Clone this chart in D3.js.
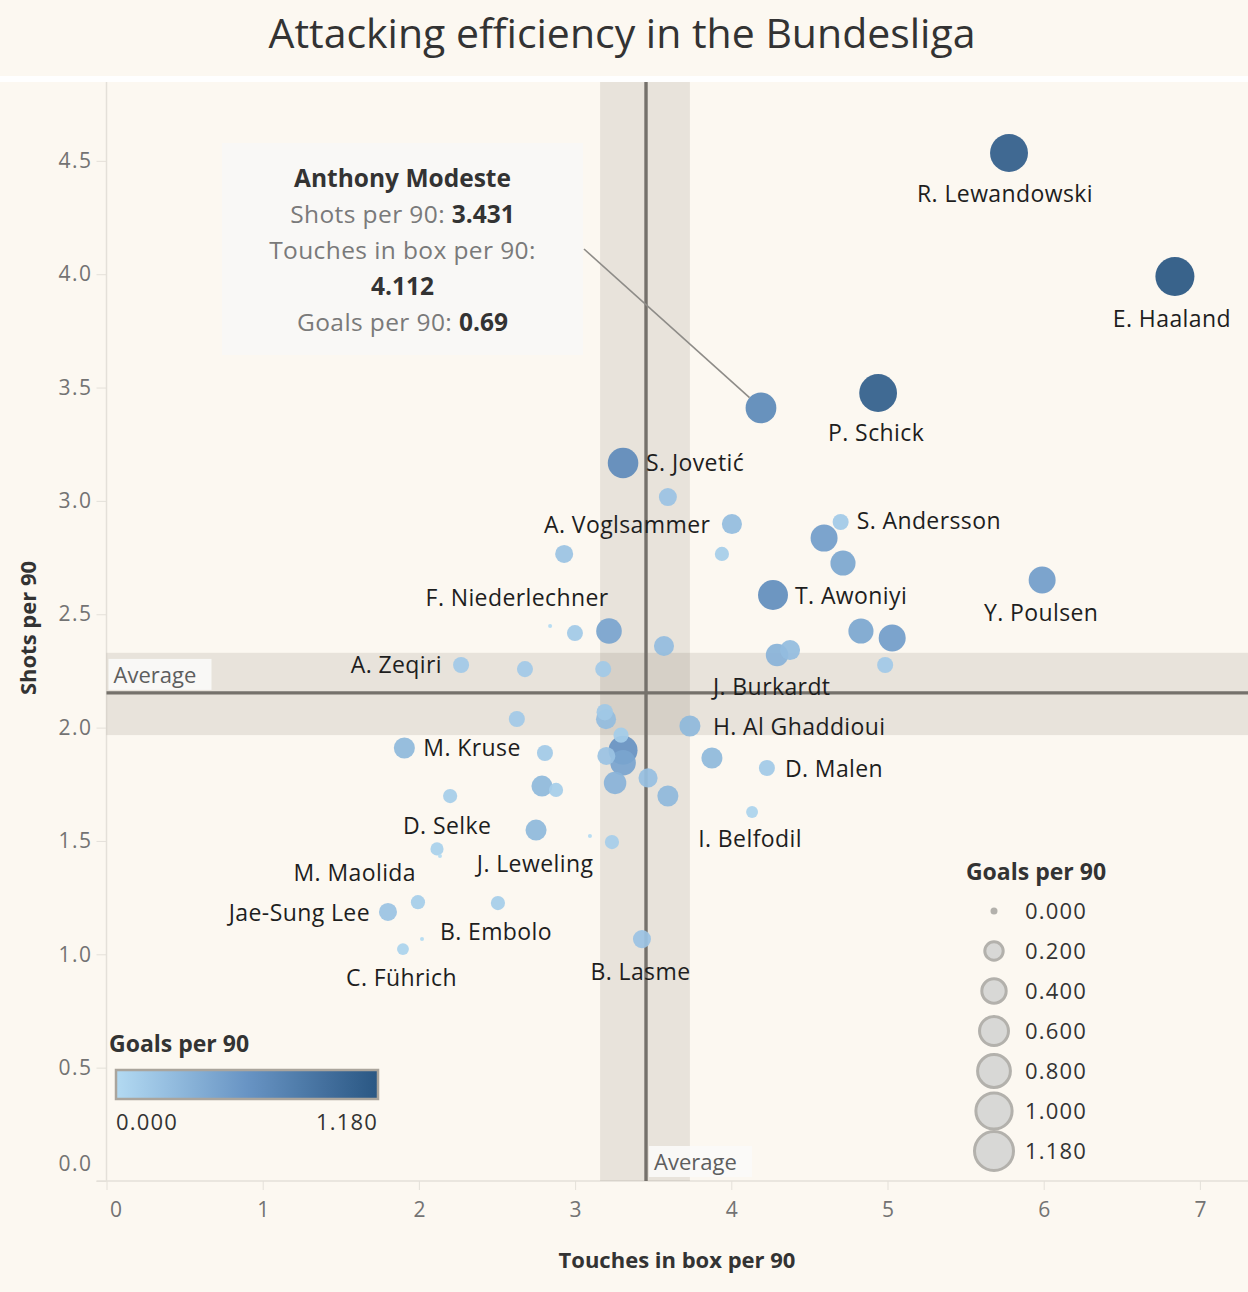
<!DOCTYPE html>
<html>
<head>
<meta charset="utf-8">
<script src="https://cdn.jsdelivr.net/npm/d3@7"></script>
<style>
  html, body { margin: 0; padding: 0; background: #fcf8f1; }
  svg text { font-family: "Open Sans", "Noto Sans", sans-serif; }
</style>
</head>
<body>
<div class="board"></div>
<script>
// data
const players = ["R. Lewandowski", "E. Haaland", "P. Schick", "Anthony Modeste", "S. Jovetić", "", "", "", "A. Voglsammer", "S. Andersson",
  "", "", "T. Awoniyi", "Y. Poulsen", "", "", "", "", "", "J. Burkardt",
  "", "", "F. Niederlechner", "", "", "A. Zeqiri", "", "", "", "H. Al Ghaddioui",
  "M. Kruse", "", "", "", "", "", "", "", "", "",
  "", "D. Selke", "J. Leweling", "", "", "M. Maolida", "", "", "D. Malen", "I. Belfodil",
  "Jae-Sung Lee", "", "B. Embolo", "C. Führich", "", "B. Lasme"];
const touchesPer90 = [5.778, 6.84, 4.94, 4.19, 3.307, 3.594, 4.004, 3.94, 2.93, 4.70,
  4.594, 4.715, 4.267, 5.99, 4.83, 5.03, 4.376, 4.293, 4.985, 3.569,
  3.217, 2.999, 2.84, 3.18, 2.679, 2.27, 2.627, 3.19, 3.198, 3.735,
  1.907, 2.807, 3.294, 3.307, 3.307, 3.2, 3.256, 3.467, 3.594, 2.788,
  2.878, 2.2, 2.75, 3.095, 3.236, 2.116, 2.135, 3.876, 4.228, 4.133,
  1.802, 1.994, 2.506, 1.898, 2.02, 3.428];
const shotsPer90 = [4.535, 3.99, 3.476, 3.41, 3.167, 3.017, 2.898, 2.766, 2.766, 2.907,
  2.836, 2.726, 2.585, 2.651, 2.426, 2.395, 2.342, 2.32, 2.276, 2.36,
  2.426, 2.417, 2.448, 2.258, 2.258, 2.276, 2.038, 2.068, 2.037, 2.007,
  1.91, 1.888, 1.967, 1.90, 1.845, 1.875, 1.756, 1.778, 1.698, 1.742,
  1.725, 1.698, 1.548, 1.522, 1.495, 1.465, 1.434, 1.866, 1.822, 1.628,
  1.187, 1.23, 1.226, 1.023, 1.067, 1.067];
const goalsPer90 = [1.11, 1.18, 1.10, 0.69, 0.68, 0.19, 0.25, 0.10, 0.19, 0.14,
  0.51, 0.43, 0.65, 0.51, 0.43, 0.51, 0.25, 0.33, 0.14, 0.25,
  0.45, 0.14, 0, 0.14, 0.14, 0.14, 0.14, 0.15, 0.25, 0.28,
  0.28, 0.14, 0.12, 0.6, 0.45, 0.19, 0.33, 0.22, 0.28, 0.28,
  0.10, 0.10, 0.28, 0, 0.10, 0.08, 0, 0.28, 0.14, 0.06,
  0.19, 0.10, 0.10, 0.06, 0, 0.19];

const xTicks = [0, 1, 2, 3, 4, 5, 6, 7];
const yTicks = [0, 0.5, 1, 1.5, 2, 2.5, 3, 3.5, 4, 4.5];
const sizeLegendValues = [0, 0.2, 0.4, 0.6, 0.8, 1.0, 1.18];
const goalsMax = 1.18;

const avgShots = 2.153, shotsBand = [1.967, 2.33];
const avgTouches = 3.454, touchesBand = [3.16, 3.735];

const tooltip = { name: "Anthony Modeste", shots: "3.431", touches: "4.112", goals: "0.69" };

// label placement: [dx, dy, anchor]
const labelPos = {
  "R. Lewandowski": [-4, 49, "middle"],
  "E. Haaland": [-3, 51, "middle"],
  "P. Schick": [-2, 48, "middle"],
  "S. Jovetić": [23, 8, "start"],
  "A. Voglsammer": [63, -21, "middle"],
  "S. Andersson": [16, 7, "start"],
  "T. Awoniyi": [22, 9, "start"],
  "Y. Poulsen": [-1, 41, "middle"],
  "F. Niederlechner": [-33, -20, "middle"],
  "A. Zeqiri": [-19, 8, "end"],
  "J. Burkardt": [49, 49, "start"],
  "H. Al Ghaddioui": [23, 9, "start"],
  "M. Kruse": [19, 8, "start"],
  "D. Malen": [18, 9, "start"],
  "D. Selke": [-3, 38, "middle"],
  "I. Belfodil": [-2, 35, "middle"],
  "J. Leweling": [-1, 42, "middle"],
  "M. Maolida": [-21, 32, "end"],
  "Jae-Sung Lee": [-18, 9, "end"],
  "B. Embolo": [-2, 37, "middle"],
  "C. Führich": [-1.5, 37, "middle"],
  "B. Lasme": [-1.5, 41, "middle"]
};

const width = 1248, height = 1292;
const plotLeft = 106.5, plotRight = 1248, plotTop = 82, plotBottom = 1181;

const svg = d3.select(".board").append("svg")
  .attr("width", width).attr("height", height);

svg.append("rect").attr("width", width).attr("height", height).attr("fill", "#fcf8f1");
svg.append("rect").attr("y", 76).attr("width", width).attr("height", 6).attr("fill", "#ffffff");

// title
svg.append("text")
  .attr("x", 622).attr("y", 48)
  .attr("text-anchor", "middle")
  .attr("font-size", 40)
  .attr("fill", "#333")
  .attr("textLength", 707).attr("lengthAdjust", "spacingAndGlyphs")
  .text("Attacking efficiency in the Bundesliga");

const x = d3.scaleLinear().domain([0, 7]).range([plotLeft, plotLeft + 7 * 156.2]);
const y = d3.scaleLinear().domain([0, 4.5]).range([plotBottom, plotBottom - 4.5 * 226.7]);
const r = d3.scaleSqrt().domain([0, goalsMax]).range([2, 19.5]);
const color = d3.scaleLinear().domain([0, goalsMax / 2, goalsMax])
  .range(["#b3daf2", "#6894c4", "#2a5783"]);

const data = players.map((name, i) => ({
  name: name, touches: touchesPer90[i], shots: shotsPer90[i], goals: goalsPer90[i]
}));

// axes
const axisColor = "#e4e0d9";
svg.append("line").attr("x1", plotLeft).attr("x2", plotLeft).attr("y1", plotTop).attr("y2", plotBottom)
  .attr("stroke", axisColor).attr("stroke-width", 1.5);
svg.append("line").attr("x1", plotLeft - 10).attr("x2", plotRight).attr("y1", plotBottom).attr("y2", plotBottom)
  .attr("stroke", axisColor).attr("stroke-width", 1.5);

const xAxis = svg.append("g").attr("transform", `translate(0,${plotBottom})`)
  .call(d3.axisBottom(x).tickValues(xTicks).tickSize(9).tickPadding(12).tickFormat(d3.format("d")));
xAxis.select(".domain").remove();
xAxis.selectAll("line").attr("stroke", axisColor);
xAxis.selectAll("text").attr("font-size", 21).attr("fill", "#737373")
  .attr("font-family", "'Open Sans', sans-serif")
  .attr("dx", d => d === 0 ? 9 : 0);

const yAxis = svg.append("g").attr("transform", `translate(${plotLeft},0)`)
  .call(d3.axisLeft(y).tickValues(yTicks).tickSize(10).tickPadding(4).tickFormat(d3.format(".1f")));
yAxis.select(".domain").remove();
yAxis.selectAll("line").attr("stroke", axisColor);
yAxis.selectAll("text").attr("font-size", 21).attr("fill", "#737373")
  .attr("letter-spacing", 1.5)
  .attr("font-family", "'Open Sans', sans-serif")
  .attr("dy", d => d === 0 ? "-0.5em" : "0.32em");

svg.append("text")
  .attr("x", 677).attr("y", 1268)
  .attr("text-anchor", "middle").attr("font-size", 22).attr("font-weight", "bold").attr("fill", "#333")
  .text("Touches in box per 90");
svg.append("text")
  .attr("transform", "translate(36,628) rotate(-90)")
  .attr("text-anchor", "middle").attr("font-size", 22).attr("font-weight", "bold").attr("fill", "#333")
  .text("Shots per 90");

// average bands
const bandFill = "rgba(60,45,30,0.1)";
svg.append("rect")
  .attr("x", plotLeft).attr("width", plotRight - plotLeft)
  .attr("y", y(shotsBand[1])).attr("height", y(shotsBand[0]) - y(shotsBand[1]))
  .attr("fill", bandFill);
svg.append("rect")
  .attr("x", x(touchesBand[0])).attr("width", x(touchesBand[1]) - x(touchesBand[0]))
  .attr("y", plotTop).attr("height", plotBottom - plotTop)
  .attr("fill", bandFill);
svg.append("line")
  .attr("x1", plotLeft).attr("x2", plotRight).attr("y1", y(avgShots)).attr("y2", y(avgShots))
  .attr("stroke", "#75716b").attr("stroke-width", 3.4);
svg.append("line")
  .attr("x1", x(avgTouches)).attr("x2", x(avgTouches)).attr("y1", plotTop).attr("y2", plotBottom)
  .attr("stroke", "#75716b").attr("stroke-width", 3.4);

// "Average" tags
function avgTag(px, py) {
  svg.append("rect").attr("x", px).attr("y", py).attr("width", 103).attr("height", 31)
    .attr("fill", "#fbfaf8").attr("opacity", 0.9);
  svg.append("text").attr("x", px + 5).attr("y", py + 24)
    .attr("font-size", 22).attr("fill", "#5e5e5e").text("Average");
}
avgTag(plotLeft + 2, y(avgShots) - 34);
avgTag(x(avgTouches) + 3, plotBottom - 35);

// dots
const sorted = data.slice().sort((a, b) => b.goals - a.goals);
svg.append("g").selectAll("circle")
  .data(sorted)
  .enter()
  .append("circle")
  .attr("cx", d => x(d.touches))
  .attr("cy", d => y(d.shots))
  .attr("r", d => r(d.goals))
  .attr("fill", d => color(d.goals))
  .attr("fill-opacity", 0.93);

// labels
svg.append("g").selectAll("text")
  .data(data.filter(d => labelPos[d.name]))
  .enter()
  .append("text")
  .attr("x", d => x(d.touches) + labelPos[d.name][0])
  .attr("y", d => y(d.shots) + labelPos[d.name][1])
  .attr("text-anchor", d => labelPos[d.name][2])
  .attr("font-size", 23)
  .attr("letter-spacing", 0.4)
  .attr("fill", "#1e1e1e")
  .text(d => d.name);

// tooltip annotation
const tipDot = data.find(d => d.name === tooltip.name);
const box = { x: 222, y: 143, w: 361, h: 212 };
svg.append("rect").attr("x", box.x).attr("y", box.y).attr("width", box.w).attr("height", box.h)
  .attr("fill", "#f9f8f6");
{
  const tx = x(tipDot.touches), ty = y(tipDot.shots);
  const sx = box.x + box.w + 1, sy = 249;
  const ang = Math.atan2(ty - sy, tx - sx);
  const rr = r(tipDot.goals);
  svg.append("line")
    .attr("x1", sx).attr("y1", sy)
    .attr("x2", tx - rr * Math.cos(ang)).attr("y2", ty - rr * Math.sin(ang))
    .attr("stroke", "#8e8c88").attr("stroke-width", 1.6);
}
const tipLines = [
  [["", tooltip.name, true]],
  [["Shots per 90: ", "", false], ["", tooltip.shots, true]],
  [["Touches in box per 90:", "", false]],
  [["", tooltip.touches, true]],
  [["Goals per 90: ", "", false], ["", tooltip.goals, true]]
];
tipLines.forEach((parts, i) => {
  const t = svg.append("text")
    .attr("x", box.x + box.w / 2).attr("y", 187 + i * 36)
    .attr("text-anchor", "middle").attr("font-size", 24.5);
  parts.forEach(p => {
    t.append("tspan")
      .attr("fill", p[2] ? "#333" : "#7a7a7a")
      .attr("font-weight", p[2] ? "bold" : "normal")
      .attr("letter-spacing", p[2] ? 0 : 0.4)
      .text(p[2] ? p[1] : p[0]);
  });
});

// size legend
svg.append("text").attr("x", 1036).attr("y", 880).attr("text-anchor", "middle")
  .attr("font-size", 23).attr("font-weight", "bold").attr("fill", "#333").text("Goals per 90");
const sizeItems = svg.append("g").selectAll("g")
  .data(sizeLegendValues).enter().append("g")
  .attr("transform", (d, i) => `translate(994,${911 + i * 40})`);
sizeItems.append("circle")
  .attr("r", d => d === 0 ? 3.5 : r(d))
  .attr("fill", d => d === 0 ? "#b3b1ac" : "#d8d8d6")
  .attr("stroke", d => d === 0 ? "none" : "#b3b1ac")
  .attr("stroke-width", 3);
sizeItems.append("text")
  .attr("x", 31).attr("y", 8)
  .attr("font-size", 22).attr("letter-spacing", 1.2).attr("fill", "#333")
  .text(d3.format(".3f"));

// colour legend
const defs = svg.append("defs");
const grad = defs.append("linearGradient").attr("id", "goalsGrad");
d3.range(0, 1.0001, 0.1).forEach(t => {
  grad.append("stop").attr("offset", `${t * 100}%`).attr("stop-color", color(t * goalsMax));
});
svg.append("text").attr("x", 109).attr("y", 1052)
  .attr("font-size", 23).attr("font-weight", "bold").attr("fill", "#333").text("Goals per 90");
svg.append("rect").attr("x", 116).attr("y", 1070).attr("width", 262).attr("height", 29)
  .attr("fill", "url(#goalsGrad)").attr("stroke", "#aaa59d").attr("stroke-width", 2.5);
svg.append("text").attr("x", 116).attr("y", 1130)
  .attr("font-size", 22).attr("letter-spacing", 1.2).attr("fill", "#333").text(d3.format(".3f")(0));
svg.append("text").attr("x", 378).attr("y", 1130).attr("text-anchor", "end")
  .attr("font-size", 22).attr("letter-spacing", 1.2).attr("fill", "#333").text(d3.format(".3f")(goalsMax));
</script>
</body>
</html>
